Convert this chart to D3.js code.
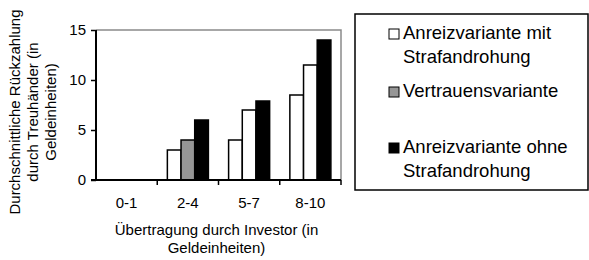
<!DOCTYPE html>
<html><head><meta charset="utf-8">
<script src="https://cdn.jsdelivr.net/npm/d3@7/dist/d3.min.js"></script>
<style>body{margin:0;background:#fff}svg{display:block}text{font-family:"Liberation Sans",Arial,sans-serif;fill:#000}</style>
</head><body><svg id="c" width="589" height="260"></svg>
<script>
const categories = ["0-1", "2-4", "5-7", "8-10"];
const seriesNames = ["Anreizvariante mit Strafandrohung", "Vertrauensvariante", "Anreizvariante ohne Strafandrohung"];
const anreizMit = [0, 3, 4, 8.5];
const vertrauen = [0, 4, 7, 11.5];
const anreizOhne = [0, 6, 7.9, 14];
const yTicks = [0, 5, 10, 15];
const legendLines = [["Anreizvariante mit", "Strafandrohung"], ["Vertrauensvariante"], ["Anreizvariante ohne", "Strafandrohung"]];
const xTitle = ["Übertragung durch Investor (in", "Geldeinheiten)"];
const yTitle = ["Durchschnittliche Rückzahlung", "durch Treuhänder (in", "Geldeinheiten)"];

const svg = d3.select("#c");
const L = 96, R = 341, T = 30, B = 180;
const x0 = d3.scaleBand().domain(categories).range([L, R]).padding(0);
const bw = x0.bandwidth();
const x1 = d3.scaleBand().domain([0, 1, 2]).range([bw * 0.165, bw * 0.835]).padding(0);
const y = d3.scaleLinear().domain([0, 15]).range([B, T]);
const series = [anreizMit, vertrauen, anreizOhne];
const fills = ["#fff", "#969696", "#000"];
function fillFor(s, ci) {
  if (s === 1 && ci > 1) return "#fff";
  return fills[s];
}

// plot border (gray top & right)
svg.append("path").attr("d", `M${L},${T}H${R}V${B}`).attr("fill", "none").attr("stroke", "#8a8a8a").attr("stroke-width", 1.5);

// bars
const data = [];
series.forEach((vals, s) => vals.forEach((v, ci) => { if (v > 0) data.push({ s, ci, v }); }));
svg.append("g").selectAll("rect").data(data).join("rect")
  .attr("x", d => x0(categories[d.ci]) + x1(d.s))
  .attr("y", d => y(d.v))
  .attr("width", x1.bandwidth())
  .attr("height", d => y(0) - y(d.v))
  .attr("fill", d => fillFor(d.s, d.ci))
  .attr("stroke", "#000").attr("stroke-width", 1.5);

// y axis
const ya = svg.append("g").attr("transform", `translate(${L},0)`)
  .call(d3.axisLeft(y).tickValues(yTicks).tickSize(5).tickPadding(5).tickFormat(d3.format("d")));
ya.select(".domain").attr("stroke", "#000").attr("stroke-width", 2).attr("d", `M0,${T}V${B}`);
ya.selectAll(".tick line").attr("stroke", "#000").attr("stroke-width", 1.5);
ya.selectAll(".tick text").style("font-size", "15px").attr("font-family", "Liberation Sans, Arial, sans-serif");

// x axis
const boundaries = categories.map(c => x0(c)).concat([R]);
const xa = svg.append("g").attr("transform", `translate(0,${B})`)
  .call(d3.axisBottom(x0).tickSize(0).tickPadding(17));
xa.select(".domain").attr("stroke", "#000").attr("stroke-width", 2).attr("d", `M${L - 5},0H${R}`);
xa.selectAll(".tick text").style("font-size", "15px").attr("font-family", "Liberation Sans, Arial, sans-serif");
xa.selectAll("line.bt").data(boundaries.slice(1)).join("line").attr("class", "bt")
  .attr("x1", d => d).attr("x2", d => d).attr("y1", 0).attr("y2", 5)
  .attr("stroke", "#000").attr("stroke-width", 1.5);

// x title
svg.append("text").attr("text-anchor", "middle").style("font-size", "15px")
  .selectAll("tspan").data(xTitle).join("tspan")
  .attr("x", (L + R) / 2 - 2).attr("y", (d, i) => 235 + i * 18).text(d => d);

// y title
svg.append("text").attr("text-anchor", "middle").style("font-size", "15px")
  .attr("transform", "translate(0,112) rotate(-90)")
  .selectAll("tspan").data(yTitle).join("tspan")
  .attr("x", 0).attr("y", (d, i) => 20 + i * 18).text(d => d);

// legend
svg.append("rect").attr("x", 355).attr("y", 14).attr("width", 233).attr("height", 176)
  .attr("fill", "#fff").attr("stroke", "#000").attr("stroke-width", 1.5);
const legBase = [39, 97, 153];
const lg = svg.append("g").selectAll("g").data(seriesNames).join("g");
lg.append("rect").attr("x", 389).attr("y", (d, i) => legBase[i] - 10).attr("width", 10).attr("height", 10)
  .attr("fill", (d, i) => fills[i]).attr("stroke", "#000").attr("stroke-width", 1);
lg.append("text").style("font-size", "18.5px")
  .selectAll("tspan").data((d, i) => legendLines[i].map(t => ({ t, i }))).join("tspan")
  .attr("x", 403).attr("y", (d, j) => legBase[d.i] + j * 24).text(d => d.t);
</script></body></html>
